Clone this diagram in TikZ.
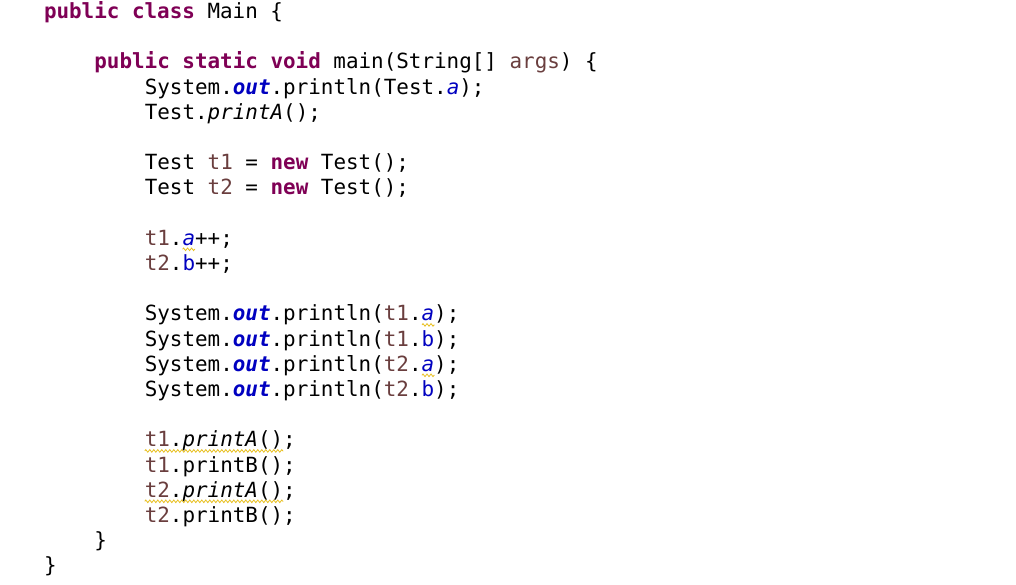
\documentclass[tikz,border=0pt]{standalone}
\usepackage{fontspec}
\usetikzlibrary{decorations.pathmorphing,calc}
\newfontfamily\codefont{DejaVu Sans Mono}
\definecolor{kwc}{HTML}{7F0055}
\definecolor{fldc}{HTML}{0000C0}
\definecolor{lvc}{HTML}{6A3E3E}
\definecolor{warnc}{HTML}{E8C020}
\newcommand\kw[1]{\textcolor{kwc}{\bfseries #1}}
\newcommand\fld[1]{\textcolor{fldc}{#1}}
\newcommand\sfld[1]{\textcolor{fldc}{\itshape #1}}
\newcommand\bofld[1]{\textcolor{fldc}{\bfseries\itshape #1}}
\newcommand\lv[1]{\textcolor{lvc}{#1}}
\newcommand\smeth[1]{\textit{#1}}
\begin{document}
\begin{tikzpicture}[x=1pt,y=-1pt,
  codeline/.style={anchor=base west,inner sep=0pt,outer sep=0pt,font=\codefont\fontsize{20.9}{25}\selectfont,text=black},
  squiggle/.style={draw=warnc,line width=0.8pt,decorate,decoration={zigzag,segment length=4pt,amplitude=1.3pt}}]
\useasboundingbox (0,0) rectangle (1016,584);
\fill[white] (0,0) rectangle (1016,584);
\def\xa{44}\def\xb{94.4}\def\xc{144.8}
\def\cw{12.6}
% baselines: 18.5 + 25.2*i
\node[codeline] (l0)  at (\xa,18.5)  {\kw{public} \kw{class} Main \{};
\node[codeline] (l2)  at (\xb,68.9)  {\kw{public} \kw{static} \kw{void} main(String[] \lv{args}) \{};
\node[codeline] (l3)  at (\xc,94.1)  {System.\bofld{out}.println(Test.\sfld{a});};
\node[codeline] (l4)  at (\xc,119.3) {Test.\smeth{printA}();};
\node[codeline] (l6)  at (\xc,169.7) {Test \lv{t1} = \kw{new} Test();};
\node[codeline] (l7)  at (\xc,194.9) {Test \lv{t2} = \kw{new} Test();};
\node[codeline] (l9)  at (\xc,245.3) {\lv{t1}.\sfld{a}++;};
\node[codeline] (l10) at (\xc,270.5) {\lv{t2}.\fld{b}++;};
\node[codeline] (l12) at (\xc,320.9) {System.\bofld{out}.println(\lv{t1}.\sfld{a});};
\node[codeline] (l13) at (\xc,346.1) {System.\bofld{out}.println(\lv{t1}.\fld{b});};
\node[codeline] (l14) at (\xc,371.3) {System.\bofld{out}.println(\lv{t2}.\sfld{a});};
\node[codeline] (l15) at (\xc,396.5) {System.\bofld{out}.println(\lv{t2}.\fld{b});};
\node[codeline] (l17) at (\xc,446.9) {\lv{t1}.\smeth{printA}();};
\node[codeline] (l18) at (\xc,472.1) {\lv{t1}.printB();};
\node[codeline] (l19) at (\xc,497.3) {\lv{t2}.\smeth{printA}();};
\node[codeline] (l20) at (\xc,522.5) {\lv{t2}.printB();};
\node[codeline] (l21) at (\xb,547.7) {\}};
\node[codeline] (l22) at (\xa,572.9) {\}};
% warning squiggles
\draw[squiggle] ($(l9.base west)+(3*\cw,4)$) -- ++(\cw,0);
\draw[squiggle] ($(l12.base west)+(22*\cw,4)$) -- ++(\cw,0);
\draw[squiggle] ($(l14.base west)+(22*\cw,4)$) -- ++(\cw,0);
\draw[squiggle] ($(l17.base west)+(0,4)$) -- ++(11*\cw,0);
\draw[squiggle] ($(l19.base west)+(0,4)$) -- ++(11*\cw,0);
\end{tikzpicture}
\end{document}
